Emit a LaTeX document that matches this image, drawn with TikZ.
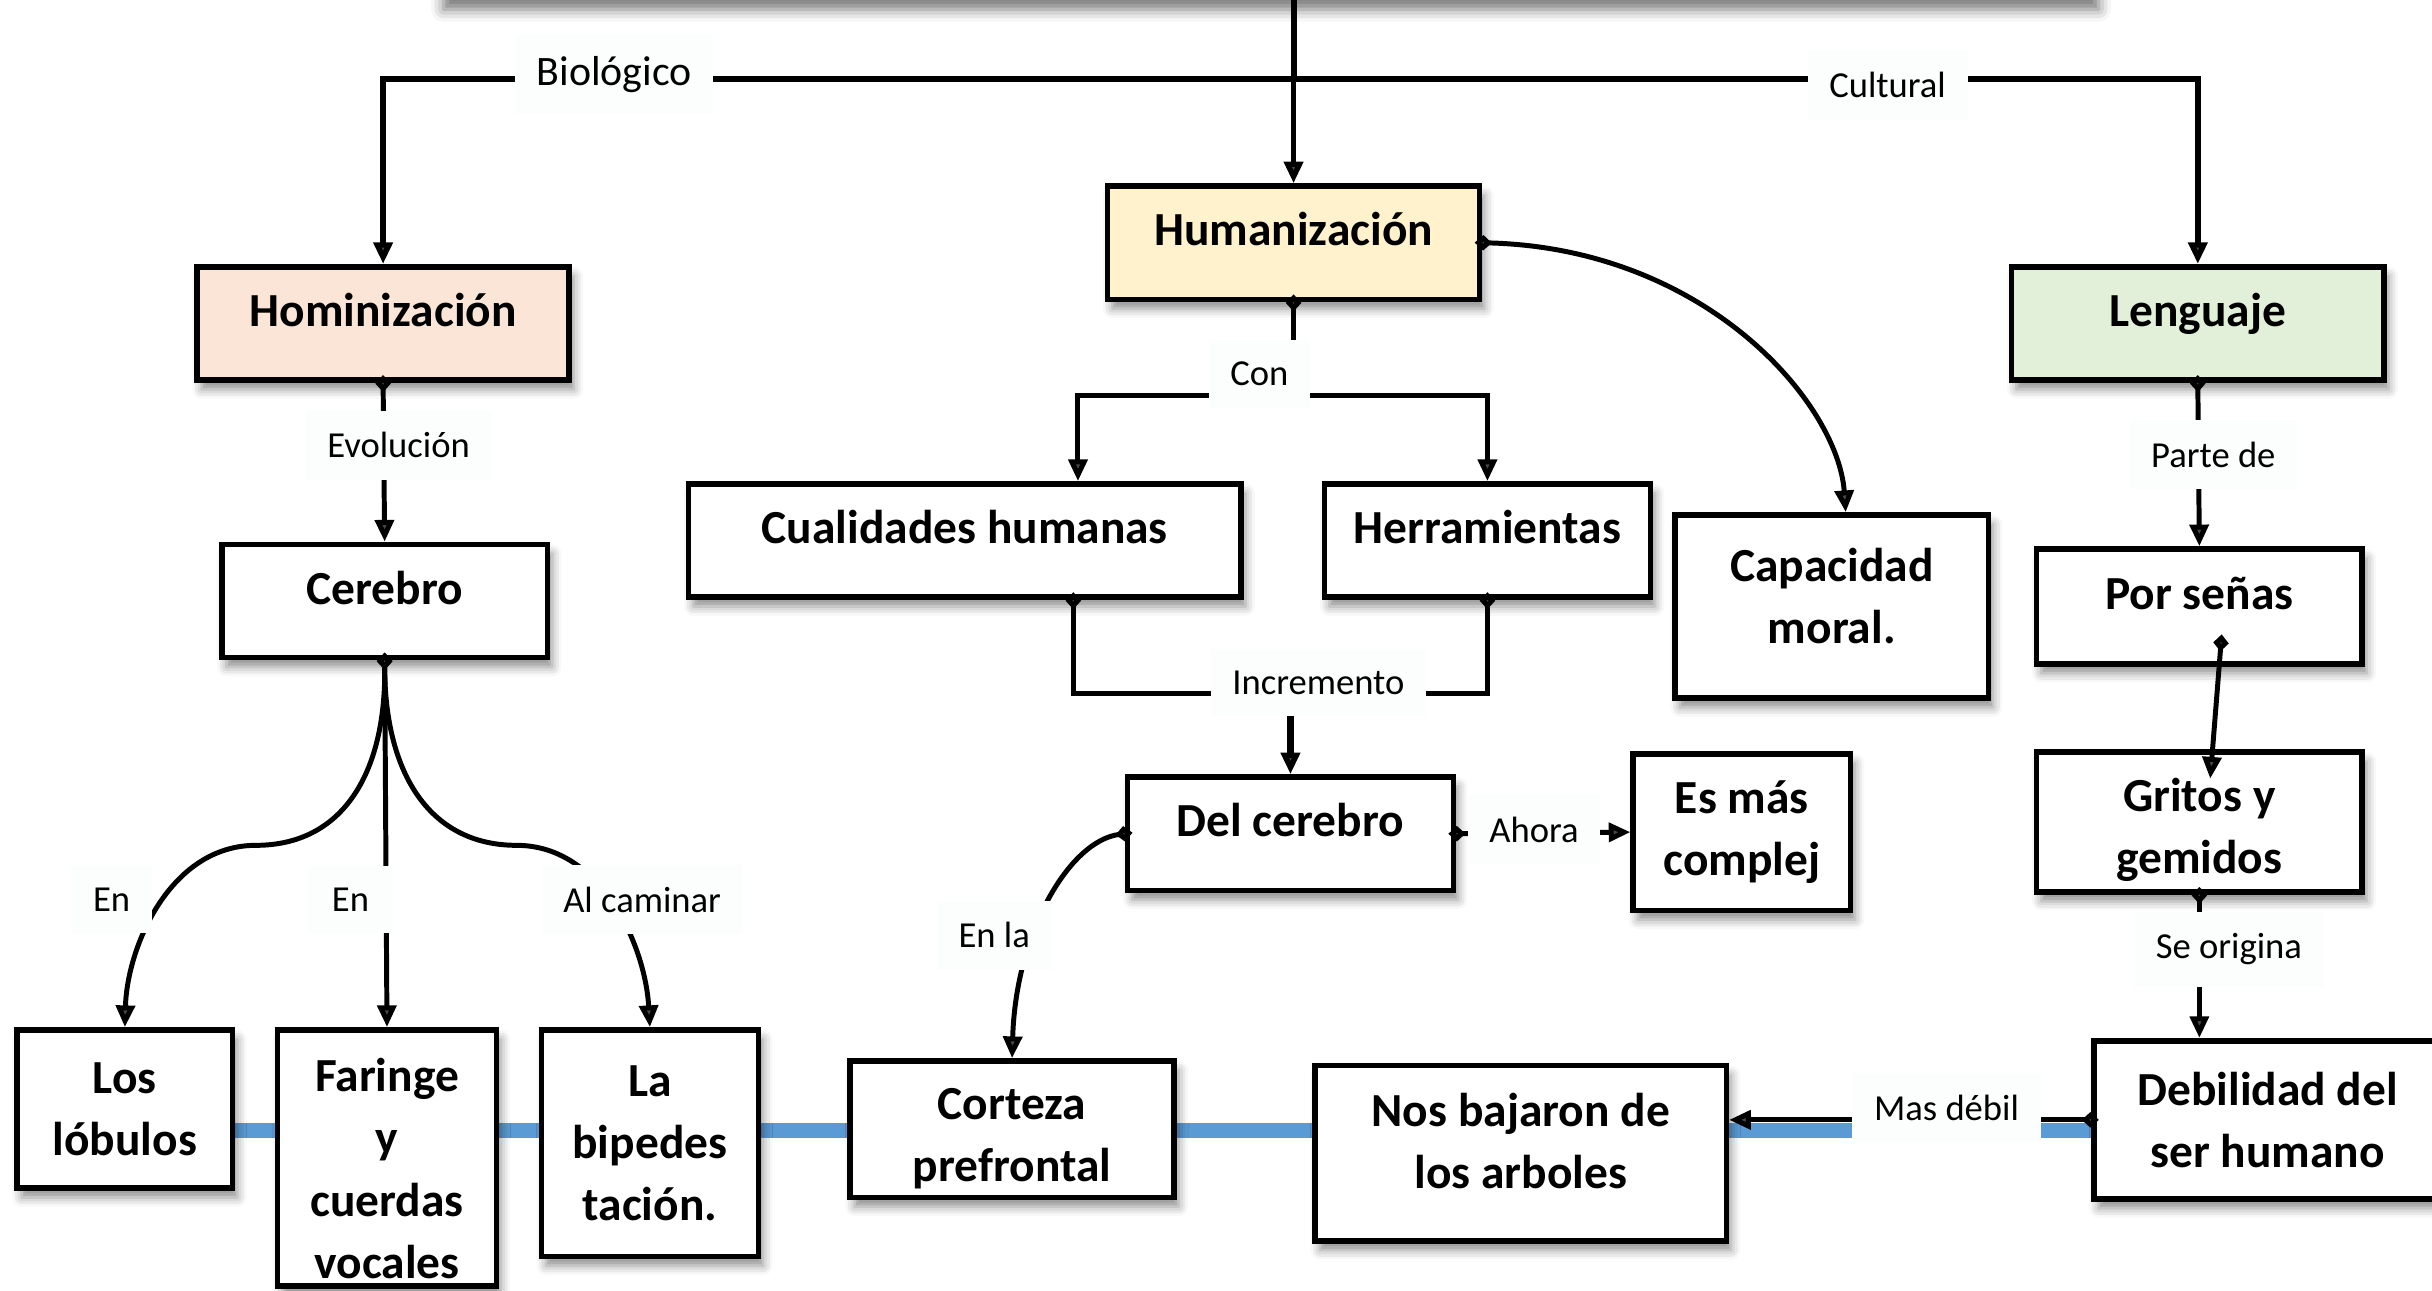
\documentclass[tikz,border=0pt]{standalone}
\usepackage{fontspec}
\setmainfont{Carlito}
\usepackage{tikz}
\usetikzlibrary{arrows.meta,shadows.blur}

\begin{document}
\begin{tikzpicture}[x=0.5pt,y=0.5pt,yscale=-1,xscale=1,
	caja/.style={draw, line width=1.8pt, fill=white, inner sep=0pt, align=center, font=\fontsize{15.3}{20}\selectfont\bfseries, blur shadow={shadow xshift=1.5pt, shadow yshift=-3pt, shadow blur radius=3pt, shadow opacity=45}},
	unalinea/.style={text height=1em, text depth=0.8em},
	fondo/.style={text depth=#1},
	altura/.style={text height=#1, text depth=0pt},
	etiqueta/.style={fill={rgb, 255:red, 252; green, 253; blue, 253 }, inner xsep=7pt, inner ysep=7pt, font=\fontsize{11.8}{14}\selectfont},
	flecha/.style={line width=1.6pt, -{Triangle[length=7pt,width=6pt]}},
	conector/.style={line width=1.6pt, shorten <=-2.5pt, {Diamond[length=5.5pt,width=5pt]}-{Triangle[length=7pt,width=6pt]}},
	origen/.style={line width=1.6pt, shorten <=-2.5pt, {Diamond[length=5.5pt,width=5pt]}-}
]
\useasboundingbox (0,0) rectangle (1568,832);

%Shadow of the box above the frame
\path [fill=white, blur shadow={shadow xshift=0.5pt, shadow yshift=-4pt, shadow blur radius=4pt, shadow opacity=55}] (285,-80) rectangle (1352,-2);

%Straight Lines [id:blue]
\coordinate (azul1) at (150,729);
\coordinate (azul2) at (1350,729);
\draw [color={rgb, 255:red, 91; green, 155; blue, 213 }, line width=4.8pt] (azul1) -- (azul2);

% Text Node
\draw (247,208.5) node [caja, unalinea, fill={rgb, 255:red, 251; green, 229; blue, 214 }, minimum width=120pt, minimum height=36.5pt] (homi) {Hominización};
% Text Node
\draw (834,156.5) node [caja, unalinea, fill={rgb, 255:red, 255; green, 242; blue, 204 }, minimum width=120pt, minimum height=36.5pt] (humani) {Humanización};
% Text Node
\draw (1417,208.5) node [caja, unalinea, fill={rgb, 255:red, 226; green, 240; blue, 217 }, minimum width=120pt, minimum height=36.5pt] (leng) {Lenguaje};
% Text Node
\draw (248,387.5) node [caja, unalinea, minimum width=105pt, minimum height=36.5pt] (cere) {Cerebro};
% Text Node
\draw (622,348.5) node [caja, unalinea, minimum width=178pt, minimum height=36.5pt] (cuali) {Cualidades humanas};
% Text Node
\draw (959,348.5) node [caja, unalinea, minimum width=105pt, minimum height=36.5pt] (herra) {Herramientas};
% Text Node
\draw (1181,391) node [caja, fondo=7pt, minimum width=101pt, minimum height=59pt] (capa) {Capacidad\\moral.};
% Text Node
\draw (1418,391) node [caja, unalinea, minimum width=105pt, minimum height=37pt] (pors) {Por señas};
% Text Node
\draw (1418,530) node [caja, altura=33pt, minimum width=105pt, minimum height=45pt] (grit) {Gritos y\\gemidos};
% Text Node
\draw (832,537.5) node [caja, unalinea, minimum width=105pt, minimum height=36.5pt] (delc) {Del cerebro};
% Text Node
\draw (1123,536.5) node [caja, minimum width=70pt, minimum height=50.5pt] (esmas) {Es más\\complej};
% Text Node
\draw (80.5,715) node [caja, minimum width=69.5pt, minimum height=51pt] (lob) {Los\\lóbulos};
% Text Node
\draw (249.5,746.5) node [caja, altura=77.5pt, minimum width=70.5pt, minimum height=82.5pt] (far) {Faringe\\y\\cuerdas\\vocales};
% Text Node
\draw (419,737) node [caja, minimum width=70pt, minimum height=73pt] (bip) {La\\bipedes\\tación.};
% Text Node
\draw (652.5,728) node [caja, altura=34pt, minimum width=104.5pt, minimum height=44pt] (cort) {Corteza\\prefrontal};
% Text Node
\draw (980.5,743.5) node [caja, fondo=8pt, minimum width=132.5pt, minimum height=56.5pt] (nos) {Nos bajaron de\\los arboles};
% Text Node
\draw (1462,722) node [caja, minimum width=112pt, minimum height=51pt] (deb) {Debilidad del\\ser humano};

%Connectors from the top
\coordinate (arriba) at (834,-5);
\coordinate (cruce) at (834,51);
\draw [flecha, line width=1.9pt] (arriba) -- (cruce) -| (homi.north);
\draw [flecha, line width=1.9pt] (arriba) -- (cruce) -| (leng.north);
\draw [conector, line width=1.7pt] (arriba) -- (humani.north);

%Hominizacion branch
\draw [conector] (homi.south) -- (cere.north);
\draw [conector] (cere.south) .. controls (249,500) and (220,545) .. (165,545) .. controls (110,545) and (82,610) .. (lob.north);
\draw [conector] (cere.south) -- (far.north);
\draw [conector] (cere.south) .. controls (248,500) and (278,545) .. (333,545) .. controls (388,545) and (416,610) .. (bip.north);

%Humanizacion branch
\coordinate (con) at (834,255);
\coordinate (incr) at (832,447);
\draw [conector] (humani.south) -- (con) -| ([xshift=36.5pt]cuali.north);
\draw [flecha] (con) -| (herra.north);
\draw [origen] ([xshift=35pt]cuali.south) |- (incr);
\draw [origen] (herra.south) |- (incr);
\draw [flecha, line width=2.2pt] (incr) -- (delc.north);
\draw [conector] (humani.east) .. controls (1100,160) and (1185,260) .. ([xshift=4.5pt]capa.north);
\draw [conector] (delc.east) -- (esmas.west);
\draw [conector] (delc.west) .. controls (690,542) and (655,600) .. (cort.north);

%Lenguaje branch
\coordinate (psin) at (1432,414);
\coordinate (grin) at (1425,502);
\draw [conector] (leng.south) -- (pors.north);
\draw [conector] (psin) -- (grin);
\draw [conector] (grit.south) -- (grit.south |- deb.north);
\draw [conector] (deb.west) -- (deb.west -| nos.east);

% Text Node
\draw (396,48) node [etiqueta, font=\fontsize{13.5}{16}\selectfont] (lbio) {Biológico};
% Text Node
\draw (1217,55) node [etiqueta] (lcult) {Cultural};
% Text Node
\draw (257,287) node [etiqueta] (levo) {Evolución};
% Text Node
\draw (812,241) node [etiqueta] (lcon) {Con};
% Text Node
\draw (850,440) node [etiqueta] (lincr) {Incremento};
% Text Node
\draw (989,535) node [etiqueta] (lahora) {Ahora};
% Text Node
\draw (72,580) node [etiqueta] (len1) {En};
% Text Node
\draw (226,580) node [etiqueta, inner xsep=8pt] (len2) {En};
% Text Node
\draw (414,580) node [etiqueta] (lcam) {Al caminar};
% Text Node
\draw (641,603) node [etiqueta] (lenla) {En la};
% Text Node
\draw (1427,293) node [etiqueta] (lparte) {Parte de};
% Text Node
\draw (1437,612) node [etiqueta] (lorig) {Se origina};
% Text Node
\draw (1255,714) node [etiqueta] (lmas) {Mas débil};
\end{tikzpicture}
\end{document}
